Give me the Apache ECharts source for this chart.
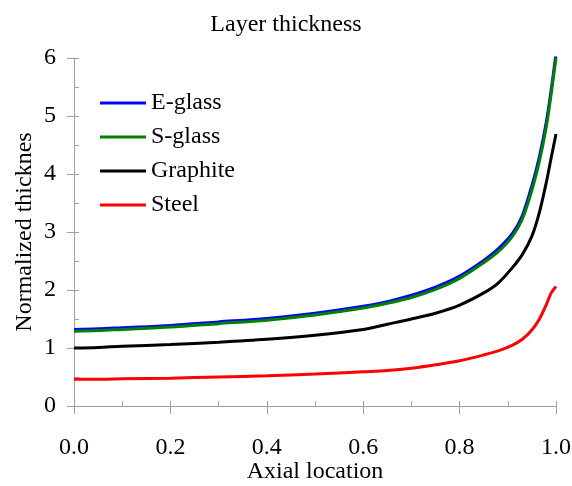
<!DOCTYPE html>
<html>
<head>
<meta charset="utf-8">
<script src="https://cdn.jsdelivr.net/npm/echarts@6/dist/echarts.min.js"></script>
<style>html,body{margin:0;padding:0;background:#fff}#c{width:572px;height:486px}</style>
</head>
<body>
<div id="c"></div>
<script>
const xs      = [0, 0.05, 0.1, 0.2, 0.3, 0.4, 0.5, 0.6, 0.65, 0.7, 0.75, 0.8, 0.85, 0.88, 0.91, 0.93, 0.95, 0.965, 0.98, 0.99, 1.0];
const eGlass  = [1.32, 1.33, 1.35, 1.39, 1.45, 1.51, 1.60, 1.72, 1.80, 1.91, 2.05, 2.24, 2.51, 2.71, 2.98, 3.28, 3.80, 4.28, 4.90, 5.45, 6.08];
const sGlass  = [1.29, 1.30, 1.32, 1.36, 1.42, 1.48, 1.57, 1.69, 1.77, 1.87, 2.01, 2.20, 2.47, 2.66, 2.93, 3.22, 3.72, 4.20, 4.82, 5.38, 6.00];
const graphite= [1.00, 1.01, 1.03, 1.06, 1.10, 1.15, 1.22, 1.32, 1.41, 1.50, 1.60, 1.74, 1.95, 2.12, 2.39, 2.61, 2.93, 3.32, 3.86, 4.28, 4.69];
const steel   = [0.46, 0.46, 0.47, 0.48, 0.50, 0.52, 0.55, 0.59, 0.61, 0.65, 0.71, 0.78, 0.88, 0.95, 1.05, 1.15, 1.31, 1.49, 1.75, 1.95, 2.06];
const seriesNames = ['E-glass', 'S-glass', 'Graphite', 'Steel'];
const seriesColors = ['#0000ff', '#008000', '#000000', '#ff0000'];
const seriesValues = [eGlass, sGlass, graphite, steel];

const FONT = '"Liberation Serif", "Times New Roman", serif';
const AX = '#a0a0a0';
const FS = 24;
const chart = echarts.init(document.getElementById('c'));
chart.setOption({
  animation: false,
  backgroundColor: '#fff',
  title: { text: 'Layer thickness', left: 'center', top: 13, padding: 0,
    textStyle: { fontFamily: FONT, fontSize: FS, fontWeight: 'normal', color: '#000' } },
  grid: { left: 74, right: 16, top: 58, bottom: 80, containLabel: false, outerBoundsMode: 'none' },
  legend: {
    orient: 'vertical', left: 100, top: 91, itemGap: 10, padding: 0,
    icon: 'rect', itemWidth: 46, itemHeight: 3,
    textStyle: { fontFamily: FONT, fontSize: FS, color: '#000', lineHeight: 23, padding: [0,0,0,0] },
    data: seriesNames
  },
  xAxis: [
    { type: 'value', min: 0, max: 1, interval: 0.2, position: 'bottom',
      name: 'Axial location', nameLocation: 'middle', nameGap: 54, nameMoveOverlap: false,
      nameTextStyle: { fontFamily: FONT, fontSize: FS, color: '#000' },
      axisLine: { onZero: false, lineStyle: { color: AX } },
      axisTick: { show: true, inside: false, length: 8, lineStyle: { color: AX } },
      axisLabel: { fontFamily: FONT, fontSize: FS, color: '#000', margin: 30,
        formatter: v => v.toFixed(1) },
      splitLine: { show: false } },
    { type: 'value', min: 0, max: 1, interval: 0.2, position: 'bottom',
      axisLine: { onZero: false, show: false },
      axisTick: { show: true, inside: true, length: 5, lineStyle: { color: AX } },
      minorTick: { show: true, splitNumber: 2, length: 5, lineStyle: { color: AX } },
      axisLabel: { show: false }, splitLine: { show: false } }
  ],
  yAxis: [
    { type: 'value', min: 0, max: 6, interval: 1, position: 'left',
      name: 'Normalized thicknes', nameLocation: 'middle', nameGap: 37, nameMoveOverlap: false,
      nameTextStyle: { fontFamily: FONT, fontSize: FS, color: '#000' },
      axisLine: { show: true, onZero: false, lineStyle: { color: AX } },
      axisTick: { show: true, inside: false, length: 7, lineStyle: { color: AX } },
      axisLabel: { fontFamily: FONT, fontSize: FS, color: '#000', margin: 18 },
      splitLine: { show: false } },
    { type: 'value', min: 0, max: 6, interval: 1, position: 'left',
      axisLine: { show: false, onZero: false },
      axisTick: { show: true, inside: true, length: 5, lineStyle: { color: AX } },
      minorTick: { show: true, splitNumber: 2, length: 5, lineStyle: { color: AX } },
      axisLabel: { show: false }, splitLine: { show: false } }
  ],
  series: seriesNames.map((n, i) => ({
    name: n, type: 'line', xAxisIndex: 0, yAxisIndex: 0,
    data: xs.map((x, j) => [x, seriesValues[i][j]]),
    showSymbol: false, symbol: 'none', smooth: 0.3,
    color: seriesColors[i],
    lineStyle: { width: 3, color: seriesColors[i] }
  }))
});
</script>
</body>
</html>
